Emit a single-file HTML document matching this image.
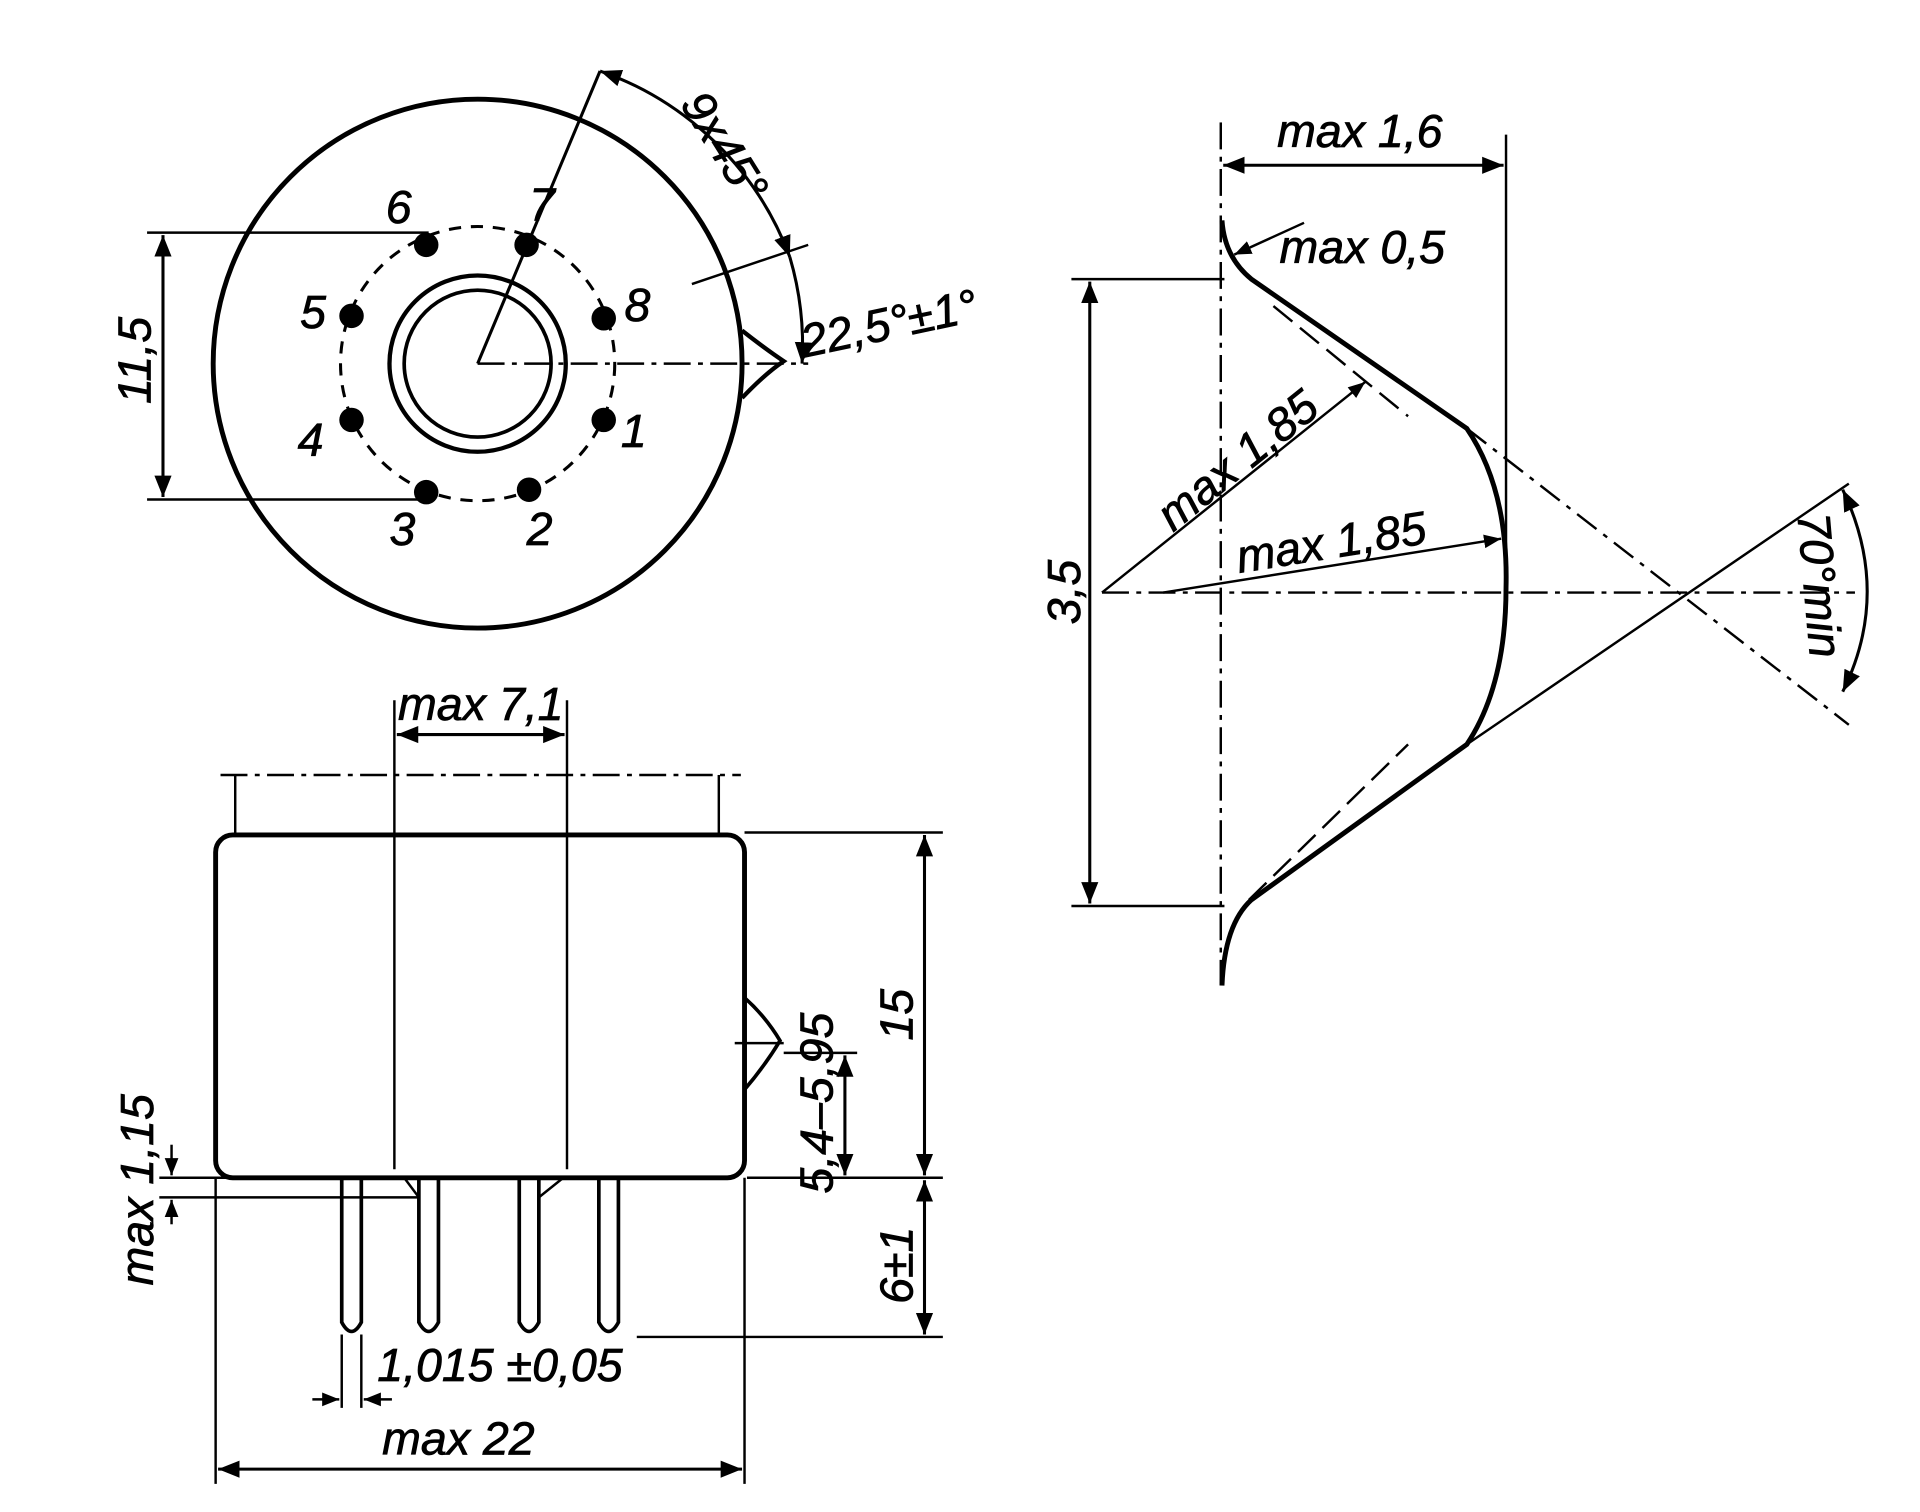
<!DOCTYPE html>
<html><head><meta charset="utf-8"><style>
html,body{margin:0;padding:0;background:#fff;}
svg{display:block}
text{font-family:"Liberation Sans",sans-serif;font-style:italic;fill:#000;stroke:#000;stroke-width:0.6}
</style></head><body>
<svg width="1920" height="1512" viewBox="0 0 1568 1235" xmlns="http://www.w3.org/2000/svg">
<defs>
<marker id="a" viewBox="0 0 10 10" refX="10" refY="5" markerWidth="7" markerHeight="7" orient="auto-start-reverse"><path d="M0,1 L10,5 L0,9 z" fill="#000"/></marker>
</defs>
<g stroke="#000" fill="none" stroke-width="3">
<circle cx="390" cy="297" r="216" stroke-width="4"/>
<path d="M606,270 Q625,285 640,295 Q625,305 606,325" stroke-width="3.5"/>
<circle cx="390" cy="297" r="112" stroke-dasharray="10,8" stroke-width="2.5"/>
<circle cx="390" cy="297" r="72" stroke-width="3.5"/>
<circle cx="390" cy="297" r="60" stroke-width="3"/>
<line x1="390" y1="297" x2="660" y2="297" stroke-dasharray="22,6,4,6" stroke-width="2"/>
<line x1="390" y1="297" x2="490" y2="58" stroke-width="2.5"/>
<line x1="565" y1="232" x2="660" y2="200" stroke-width="2"/>
<path d="M490,58 A255,255 0 0 1 645,210" marker-start="url(#a)" marker-end="url(#a)" stroke-width="2.5"/>
<path d="M645,210 A255,255 0 0 1 655,297" marker-end="url(#a)" stroke-width="2.5"/>
<line x1="120" y1="190" x2="350" y2="190" stroke-width="2"/>
<line x1="120" y1="408" x2="350" y2="408" stroke-width="2"/>
<line x1="133" y1="192" x2="133" y2="406" marker-start="url(#a)" marker-end="url(#a)" stroke-width="2.5"/>
<rect x="176" y="682" width="432" height="280" rx="14" stroke-width="4"/>
<line x1="180" y1="633" x2="605" y2="633" stroke-dasharray="22,6,4,6" stroke-width="2"/>
<line x1="192" y1="633" x2="192" y2="682" stroke-width="2"/>
<line x1="587" y1="633" x2="587" y2="682" stroke-width="2"/>
<line x1="322" y1="572" x2="322" y2="955" stroke-width="2"/>
<line x1="463" y1="572" x2="463" y2="955" stroke-width="2"/>
<line x1="324" y1="600" x2="461" y2="600" marker-start="url(#a)" marker-end="url(#a)" stroke-width="2.5"/>
<path d="M608,815 Q625,830 637,850 Q625,870 608,890" stroke-width="3"/>
<line x1="600" y1="852" x2="640" y2="852" stroke-width="2"/>
<path d="M279,962 V1080 Q287,1095 295,1080 V962" stroke-width="3"/>
<path d="M342,962 V1080 Q350,1095 358,1080 V962" stroke-width="3"/>
<path d="M424,962 V1080 Q432,1095 440,1080 V962" stroke-width="3"/>
<path d="M489,962 V1080 Q497,1095 505,1080 V962" stroke-width="3"/>
<path d="M330,962 L342,978 M460,962 L440,978" stroke-width="2"/>
<line x1="130" y1="962" x2="342" y2="962" stroke-width="2"/>
<line x1="130" y1="978" x2="342" y2="978" stroke-width="2"/>
<line x1="140" y1="935" x2="140" y2="960" marker-end="url(#a)" stroke-width="2"/>
<line x1="140" y1="1000" x2="140" y2="980" marker-end="url(#a)" stroke-width="2"/>
<line x1="608" y1="680" x2="770" y2="680" stroke-width="2"/>
<line x1="610" y1="962" x2="770" y2="962" stroke-width="2"/>
<line x1="520" y1="1092" x2="770" y2="1092" stroke-width="2"/>
<line x1="755" y1="682" x2="755" y2="960" marker-start="url(#a)" marker-end="url(#a)" stroke-width="2.5"/>
<line x1="755" y1="964" x2="755" y2="1090" marker-start="url(#a)" marker-end="url(#a)" stroke-width="2.5"/>
<line x1="640" y1="860" x2="700" y2="860" stroke-width="2"/>
<line x1="690" y1="862" x2="690" y2="960" marker-start="url(#a)" marker-end="url(#a)" stroke-width="2.5"/>
<line x1="279" y1="1090" x2="279" y2="1150" stroke-width="2"/>
<line x1="295" y1="1090" x2="295" y2="1150" stroke-width="2"/>
<line x1="255" y1="1143" x2="277" y2="1143" marker-end="url(#a)" stroke-width="2"/>
<line x1="320" y1="1143" x2="297" y2="1143" marker-end="url(#a)" stroke-width="2"/>
<line x1="176" y1="962" x2="176" y2="1212" stroke-width="2"/>
<line x1="608" y1="962" x2="608" y2="1212" stroke-width="2"/>
<line x1="178" y1="1200" x2="606" y2="1200" marker-start="url(#a)" marker-end="url(#a)" stroke-width="2.5"/>
<path d="M998,180 Q1000,210 1022,228 L1198,350 Q1232,400 1230,480 Q1230,560 1198,608 L1022,735 Q1000,755 998,805" stroke-width="4"/>
<line x1="997" y1="100" x2="997" y2="805" stroke-dasharray="22,6,4,6" stroke-width="2"/>
<line x1="1230" y1="110" x2="1230" y2="480" stroke-width="2"/>
<line x1="999" y1="135" x2="1228" y2="135" marker-start="url(#a)" marker-end="url(#a)" stroke-width="2.5"/>
<line x1="1065" y1="182" x2="1008" y2="208" marker-end="url(#a)" stroke-width="2"/>
<line x1="875" y1="228" x2="1000" y2="228" stroke-width="2"/>
<line x1="875" y1="740" x2="1000" y2="740" stroke-width="2"/>
<line x1="890" y1="230" x2="890" y2="738" marker-start="url(#a)" marker-end="url(#a)" stroke-width="2.5"/>
<line x1="900" y1="484" x2="1515" y2="484" stroke-dasharray="22,6,4,6" stroke-width="2"/>
<line x1="900" y1="484" x2="1115" y2="312" marker-end="url(#a)" stroke-width="2"/>
<line x1="950" y1="484" x2="1226" y2="440" marker-end="url(#a)" stroke-width="2"/>
<line x1="1198" y1="350" x2="1510" y2="592" stroke-dasharray="20,7,4,7" stroke-width="2"/>
<line x1="1198" y1="608" x2="1510" y2="395" stroke-width="2"/>
<line x1="1020" y1="735" x2="1150" y2="608" stroke-dasharray="20,8" stroke-width="2"/>
<line x1="1040" y1="250" x2="1150" y2="340" stroke-dasharray="20,8" stroke-width="2"/>
<path d="M1505,400 Q1545,484 1505,565" marker-start="url(#a)" marker-end="url(#a)" stroke-width="2.5"/>
</g>
<g fill="#000">
<circle cx="348" cy="200" r="10"/><circle cx="430" cy="200" r="10"/>
<circle cx="493" cy="260" r="10"/><circle cx="493" cy="343" r="10"/>
<circle cx="432" cy="400" r="10"/><circle cx="348" cy="402" r="10"/>
<circle cx="287" cy="343" r="10"/><circle cx="287" cy="258" r="10"/>
</g>
<g font-size="38">
<text x="315" y="182">6</text><text x="432" y="180">7</text>
<text x="510" y="262">8</text><text x="507" y="365">1</text>
<text x="430" y="445">2</text><text x="318" y="445">3</text>
<text x="243" y="372">4</text><text x="245" y="268">5</text>
<text transform="translate(123,330) rotate(-90)">11,5</text>
<text transform="translate(555,85) rotate(58)">9x45°</text>
<text transform="translate(657,292) rotate(-12)">22,5°±1°</text>
<text x="325" y="588">max 7,1</text>
<text transform="translate(745,850) rotate(-90)">15</text>
<text transform="translate(745,1065) rotate(-90)">6±1</text>
<text transform="translate(680,975) rotate(-90)">5,4–5,95</text>
<text transform="translate(125,1050) rotate(-90)">max 1,15</text>
<text x="308" y="1128">1,015 ±0,05</text>
<text x="312" y="1188">max 22</text>
<text x="1043" y="120">max 1,6</text>
<text x="1045" y="215">max 0,5</text>
<text transform="translate(882,510) rotate(-90)">3,5</text>
<text transform="translate(958,435) rotate(-39)">max 1,85</text>
<text transform="translate(1012,468) rotate(-9)">max 1,85</text>
<text transform="translate(1468,420) rotate(85)">70°min</text>
</g>
</svg>
</body></html>
